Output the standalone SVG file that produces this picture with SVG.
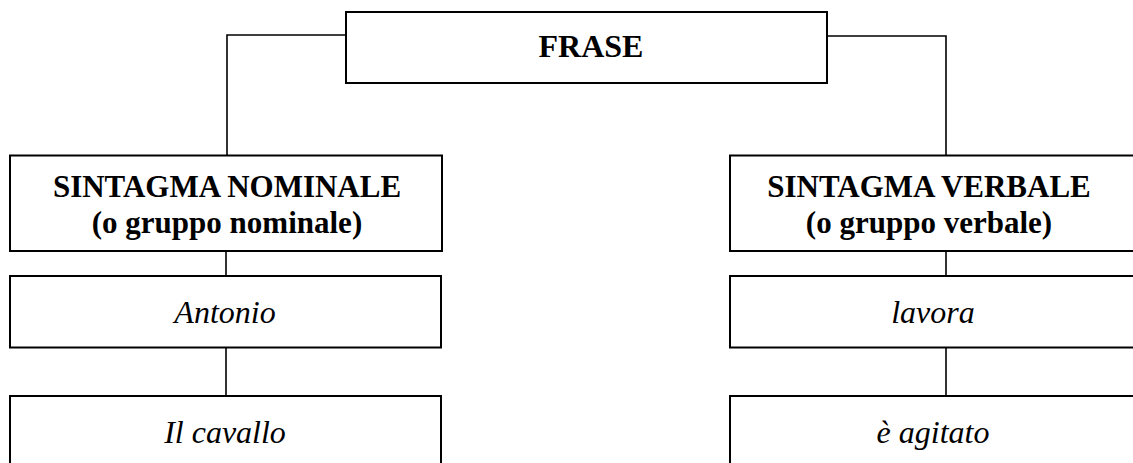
<svg xmlns="http://www.w3.org/2000/svg" width="1133" height="463" viewBox="0 0 1133 463">
<style>
.box{fill:#fff;stroke:#000;stroke-width:2}
.conn{fill:none;stroke:#000;stroke-width:1.6}
.hd{font-family:"Liberation Serif","Times New Roman",serif;font-weight:bold;text-anchor:middle;fill:#000}
.it{font-family:"Liberation Serif","Times New Roman",serif;font-style:italic;font-size:32px;text-anchor:middle;fill:#000}
</style>
<rect width="1133" height="463" fill="#fff"/>
<g id="connectors">
<polyline class="conn" points="346,35 227,35 227,155"/>
<polyline class="conn" points="827,36 946,36 946,155"/>
<line class="conn" x1="226" y1="251" x2="226" y2="276"/>
<line class="conn" x1="226" y1="347.5" x2="226" y2="396"/>
<line class="conn" x1="946" y1="251" x2="946" y2="276"/>
<line class="conn" x1="946" y1="347.5" x2="946" y2="396"/>
</g>
<g id="frase">
<rect class="box" x="346" y="12" width="481" height="71"/>
<text class="hd" x="591" y="56.5" font-size="32">FRASE</text>
</g>
<g id="sn">
<rect class="box" x="10" y="155.5" width="432" height="95.5"/>
<text class="hd" x="227" y="197" font-size="31">SINTAGMA NOMINALE</text>
<text class="hd" x="227" y="233" font-size="31">(o gruppo nominale)</text>
</g>
<g id="sv">
<rect class="box" x="730" y="155.5" width="410" height="95.5"/>
<text class="hd" x="929" y="197" font-size="31">SINTAGMA VERBALE</text>
<text class="hd" x="929" y="233" font-size="31">(o gruppo verbale)</text>
</g>
<g id="antonio">
<rect class="box" x="10" y="276" width="431" height="71.5"/>
<text class="it" x="225" y="322.5">Antonio</text>
</g>
<g id="lavora">
<rect class="box" x="730" y="276" width="410" height="71.5"/>
<text class="it" x="933" y="322.5">lavora</text>
</g>
<g id="cavallo">
<rect class="box" x="10" y="396" width="431" height="100"/>
<text class="it" x="225" y="443">Il cavallo</text>
</g>
<g id="agitato">
<rect class="box" x="730" y="396" width="410" height="100"/>
<text class="it" x="933" y="443">è agitato</text>
</g>
</svg>
